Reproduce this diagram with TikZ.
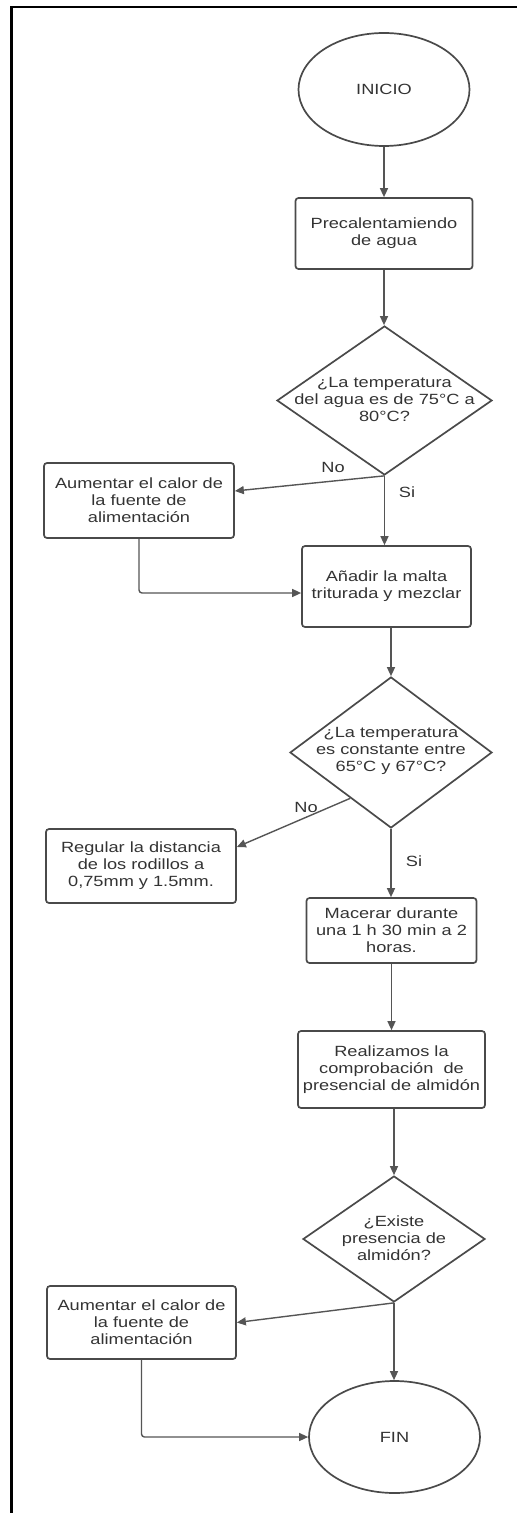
\documentclass[tikz,border=0pt]{standalone}
\usepackage{fontspec}
\setmainfont{Liberation Sans}[FakeStretch=1.23]
\usetikzlibrary{shapes.geometric,arrows.meta,calc}
\definecolor{ink}{HTML}{333333}
\definecolor{edge}{HTML}{4a4a4a}
\definecolor{wire}{HTML}{555555}

\begin{document}
\begin{tikzpicture}[x=1bp,y=-1bp,
  every node/.style={font=\fontsize{14.8bp}{17bp}\selectfont, text=ink, align=center},
  procbox/.style={draw=edge, line width=1.7bp, rounded corners=3bp, inner sep=0},
  decision/.style={diamond, draw=edge, line width=1.7bp, inner sep=0},
  terminal/.style={ellipse, draw=edge, line width=1.7bp, inner sep=0},
  flow/.style={draw=wire, line width=1.4bp, -{Triangle[length=9bp,width=8bp]}},
  loopback/.style={flow, rounded corners=3bp},
  answer/.style={inner sep=0}
]
\useasboundingbox (0,0) rectangle (517,1513);

% page frame (top and left edges)
\draw[line width=2.2bp, black] (11.5,1513) -- (11.5,7) -- (517,7);

% main column
\node[terminal, minimum width=171bp, minimum height=113bp] (start) at (384,89.5) {INICIO};
\node[procbox, minimum width=177bp, minimum height=71bp] (heat) at (384,233.5) {Precalentamiendo\\de agua};
\node[decision, minimum width=215bp, minimum height=149bp] (q1) at (384.5,400.5) {};
\node (q1t) at (384.5,399.5) {¿La temperatura\\del agua es de 75°C a\\80°C?};
\node[procbox, minimum width=169bp, minimum height=81bp] (malt) at (386.5,586.5) {Añadir la malta\\triturada y mezclar};
\node[decision, minimum width=202bp, minimum height=151bp] (q2) at (391,752.5) {};
\node (q2t) at (391,750.5) {¿La temperatura\\es constante entre\\65°C y 67°C?};
\node[procbox, minimum width=170bp, minimum height=65bp] (mash) at (391.5,930.5) {Macerar durante\\una 1 h 30 min a 2\\horas.};
\node[procbox, minimum width=187bp, minimum height=77bp] (test) at (391.5,1069.5) {Realizamos la\\comprobación~ de\\presencial de almidón};
\node[decision, minimum width=182bp, minimum height=126bp] (q3) at (394,1239) {};
\node (q3t) at (394,1238) {¿Existe\\presencia de\\almidón?};
\node[terminal, minimum width=171bp, minimum height=112bp] (finish) at (394.5,1437) {FIN};

% side branch
\node[procbox, minimum width=190bp, minimum height=75bp] (boost1) at (139,500.5) {Aumentar el calor de\\la fuente de\\alimentación};
\node[procbox, minimum width=190bp, minimum height=74bp] (mill) at (141,866) {Regular la distancia\\de los rodillos a\\0,75mm y 1.5mm.};
\node[procbox, minimum width=189bp, minimum height=73bp] (boost2) at (141.5,1322.5) {Aumentar el calor de\\la fuente de\\alimentación};

% answer labels
\node[answer] (no1) at (333,467) {No};
\node[answer] (si1) at (407,492) {Si};
\node[answer] (no2) at (306,807) {No};
\node[answer] (si2) at (414,861) {Si};

% connectors
\draw[flow] (start.south) -- (heat.north);
\draw[flow] (heat.south) -- (heat.south |- q1.north);
\draw[flow] (q1.south) -- (boost1.east |- 0,491);
\draw[flow] (q1.south) -- (q1.south |- malt.north);
\draw[loopback] (boost1.south) |- (malt.west |- 0,593);
\draw[flow] (malt.south -| q2.north) -- (q2.north);
\draw[flow] ($(q2.west)!0.6!(q2.south)$) -- (mill.east |- 0,847);
\draw[flow] (q2.south) -- (q2.south |- mash.north);
\draw[flow] (mash.south) -- (test.north);
\draw[flow] (test.south -| q3.north) -- (q3.north);
\draw[flow] (q3.south) -- (boost2.east);
\draw[flow] (q3.south) -- (q3.south |- finish.north);
\draw[loopback] (boost2.south) |- (finish.west);
\end{tikzpicture}
\end{document}
